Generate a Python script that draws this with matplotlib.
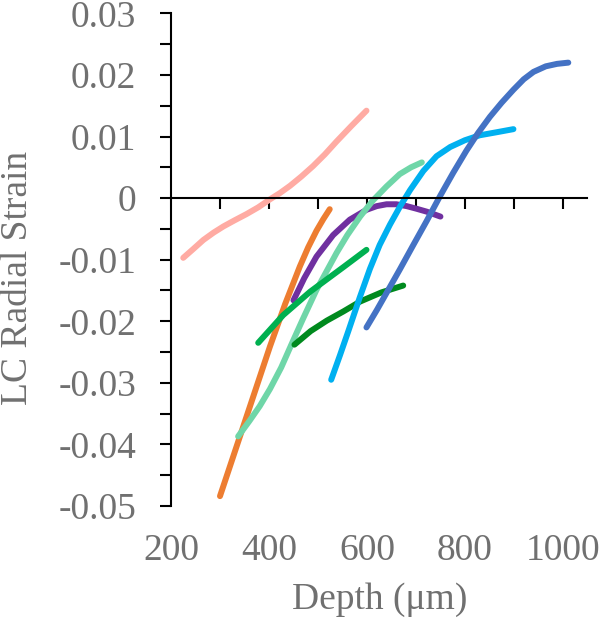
import numpy as np
import matplotlib.pyplot as plt

# depth (um) and LC radial strain, one pair of lists per eye
pink_x = [225, 245, 266, 287, 307, 330, 354, 378, 402, 422, 443, 466, 490, 514, 538, 568, 599]
pink_y = [-0.0097, -0.0083, -0.0068, -0.0056, -0.0046, -0.0036, -0.0026, -0.0015, -0.0002,
          0.0008, 0.0020, 0.0035, 0.0052, 0.0071, 0.0092, 0.0117, 0.0142]

orange_x = [300, 334, 368, 402, 433, 463, 480, 497, 511, 524]
orange_y = [-0.0484, -0.0403, -0.0322, -0.0241, -0.0172, -0.0111, -0.0080, -0.0053, -0.0034, -0.0018]

purple_x = [450, 472, 497, 531, 565, 599, 620, 640, 660, 681, 700, 722, 750]
purple_y = [-0.0166, -0.0130, -0.0095, -0.0060, -0.0035, -0.0019, -0.0013, -0.0010, -0.0010,
            -0.0013, -0.0017, -0.0022, -0.0030]

mint_x = [337, 360, 381, 402, 425, 449, 470, 497, 538, 560, 586, 612, 640, 667, 690, 712]
mint_y = [-0.0387, -0.0362, -0.0338, -0.0310, -0.0275, -0.0232, -0.0195, -0.0149, -0.0089,
          -0.0060, -0.0030, -0.0004, 0.0019, 0.0039, 0.0050, 0.0058]

green_x = [378, 429, 484, 552, 599]
green_y = [-0.0235, -0.0190, -0.0152, -0.0112, -0.0084]

dkgreen_x = [452, 485, 518, 552, 586, 630, 674]
dkgreen_y = [-0.0238, -0.0216, -0.0199, -0.0184, -0.0168, -0.0153, -0.0142]

ltblue_x = [527, 545, 562, 585, 606, 626, 647, 668, 688, 715, 742, 770, 800, 830, 865, 899]
ltblue_y = [-0.0295, -0.0255, -0.0216, -0.0162, -0.0115, -0.0076, -0.0043, -0.0013, 0.0013,
            0.0044, 0.0068, 0.0083, 0.0094, 0.0102, 0.0107, 0.0112]

blue_x = [599, 620, 640, 667, 694, 722, 749, 776, 803, 827, 851, 875, 899, 920, 940, 965, 988, 1011]
blue_y = [-0.0210, -0.0182, -0.0154, -0.0116, -0.0077, -0.0037, 0.0003, 0.0041, 0.0077, 0.0106,
          0.0132, 0.0155, 0.0176, 0.0193, 0.0205, 0.0214, 0.0218, 0.0220]

series = [
    (pink_x, pink_y, '#FFABA3'),
    (orange_x, orange_y, '#ED7D31'),
    (purple_x, purple_y, '#7030A0'),
    (mint_x, mint_y, '#6FD6A8'),
    (green_x, green_y, '#00B050'),
    (dkgreen_x, dkgreen_y, '#008A1E'),
    (ltblue_x, ltblue_y, '#00B0F0'),
    (blue_x, blue_y, '#4472C4'),
]

xlabels = [200, 400, 600, 800, 1000]
yticks = [-0.05, -0.04, -0.03, -0.02, -0.01, 0, 0.01, 0.02, 0.03]
ylabels = ['-0.05', '-0.04', '-0.03', '-0.02', '-0.01', '0', '0.01', '0.02', '0.03']

grey = '#707070'
fs = 27
plt.rcParams['font.family'] = ['Liberation Serif', 'DejaVu Serif']

fig = plt.figure(figsize=(6, 6.22), dpi=100)
ax = fig.add_axes([0.285, 0.1865, 0.694, 0.792])

for xs, ys, c in series:
    ax.plot(xs, ys, color=c, lw=4.3, solid_capstyle='round', solid_joinstyle='round')

ax.set_xlim(200, 1050)
ax.set_ylim(-0.05, 0.03)

# axes cross at y=0
ax.spines['top'].set_visible(False)
ax.spines['right'].set_visible(False)
ax.spines['bottom'].set_position(('data', 0))
ax.spines['left'].set_linewidth(1.5)
ax.spines['bottom'].set_linewidth(1.5)

ax.set_xticks(np.arange(300, 1001, 100))
ax.tick_params(axis='x', direction='out', length=8, width=1.5, labelbottom=False)

ax.set_yticks(yticks)
ax.set_yticklabels(ylabels)
ax.set_yticks(np.arange(-0.045, 0.03, 0.01), minor=True)
ax.tick_params(axis='y', which='both', direction='out', length=8, width=1.5,
               labelsize=fs, labelcolor=grey, pad=17)

# x tick labels sit under the plot, not on the zero line
sec = ax.secondary_xaxis('bottom')
sec.spines['bottom'].set_visible(False)
sec.set_xticks(xlabels)
sec.set_xticklabels([str(v) for v in xlabels])
sec.tick_params(length=0, labelsize=fs, labelcolor=grey, pad=20)

fig.text(0.03, 0.553, 'LC Radial Strain', fontsize=fs, color=grey,
         rotation=90, ha='center', va='center')
fig.text(0.632, 0.036, 'Depth (μm)', fontsize=fs, color=grey, ha='center', va='center')

fig.savefig('out.png', dpi=100)
